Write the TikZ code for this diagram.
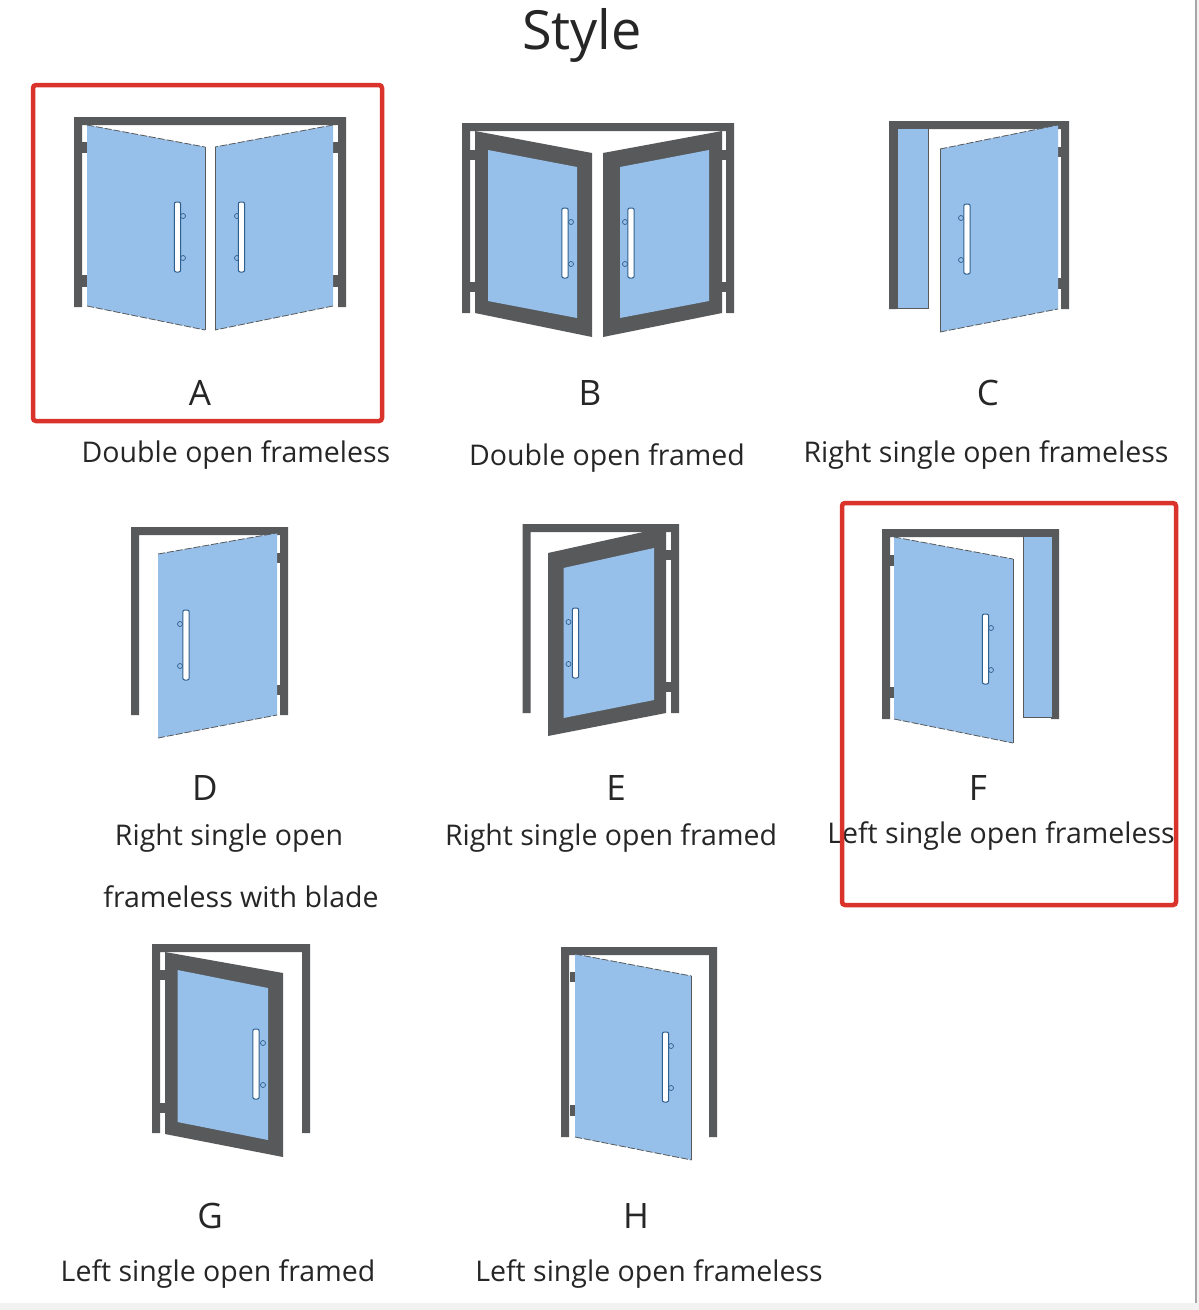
\documentclass[tikz,border=0pt]{standalone}
\usepackage{fontspec}
\setmainfont{Open Sans}
\usetikzlibrary{calc}
\definecolor{framegray}{HTML}{58595B}
\definecolor{glassblue}{HTML}{96C0E9}
\definecolor{handleblue}{HTML}{2F5F8F}
\definecolor{boxred}{HTML}{D9332B}
\definecolor{inkgray}{HTML}{262626}
\tikzset{
	framefill/.style={fill=framegray},
	glass/.style={fill=glassblue},
	edgeline/.style={draw=framegray,line width=0.8pt},
	dashline/.style={edgeline,dash pattern=on 7pt off 2pt},
	redbox/.style={draw=boxred,line width=4.5pt,rounded corners=3pt},
	letterlabel/.style={text=inkgray,font=\fontsize{35}{40}\selectfont},
	caption/.style={text=inkgray,font=\fontsize{28.5}{34}\selectfont},
}
\newcommand{\doorframe}[4]{
	\fill[framefill] (#1,#4) -- (#1,#2) -- (#3,#2) -- (#3,#4) -- ($(#3,#4)+(-8,0)$) -- ($(#3,#2)+(-8,8)$) -- ($(#1,#2)+(8,8)$) -- ($(#1,#4)+(8,0)$) -- cycle;
}
\newcommand{\doorhandle}[3]{
	\draw[fill=glassblue,draw=handleblue,line width=0.7pt] ($(#1,#2)+(#3,14)$) circle (2.5);
	\draw[fill=glassblue,draw=handleblue,line width=0.7pt] ($(#1,#2)+(#3,56)$) circle (2.5);
	\draw[fill=white,draw=handleblue,line width=1pt,rounded corners=2pt] ($(#1,#2)+(-3.2,0)$) rectangle ($(#1,#2)+(3.2,70)$);
}
\newcommand{\openleaf}[4]{
	\fill[glass] (#1) -- (#2) -- (#3) -- (#4) -- cycle;
	\draw[dashline] (#1) -- (#2);
	\draw[dashline] (#4) -- (#3);
}
\newcommand{\framedleaf}[8]{
	\fill[framefill] (#1) -- (#2) -- (#3) -- (#4) -- cycle;
	\fill[glass] (#5) -- (#6) -- (#7) -- (#8) -- cycle;
}
\newcommand{\hingeplate}[4]{
	\fill[framefill] (#1,#2) rectangle (#3,#4);
}
\begin{document}
\begin{tikzpicture}[x=1pt,y=-1pt]
	\useasboundingbox (0,0) rectangle (1199,1310);
	\fill[white] (0,0) rectangle (1199,1310);
	\fill[black!5] (0,1303) rectangle (1199,1310);
	\fill[black!35] (1194.5,0) rectangle (1197,1303);
	\fill[black!5] (1197,0) rectangle (1199,1303);

	\node[text=inkgray,font=\fontsize{54}{60}\selectfont] (title) at (582,35) {Style};

	\doorframe{74}{117}{346}{307}
	\hingeplate{82}{142}{88}{153}
	\hingeplate{82}{275}{88}{287}
	\hingeplate{333}{142}{338}{153}
	\hingeplate{333}{275}{338}{287}
	\openleaf{87,125}{205,147}{205,330}{87,306}
	\openleaf{333,125}{215,147}{215,330}{333,306}
	\draw[edgeline] (205,147) -- (205,330);
	\draw[edgeline] (215,147) -- (215,330);
	\doorhandle{177.5}{202}{5.5}
	\doorhandle{241.5}{202}{-4.5}
	\node[letterlabel] (labelA) at (200,393) {A};
	\node[caption] (captionA) at (236,455) {Double open frameless};

	\doorframe{462}{123}{734}{313}
	\hingeplate{469}{150}{476}{160}
	\hingeplate{469}{282}{476}{292}
	\hingeplate{721}{150}{727}{160}
	\hingeplate{721}{282}{727}{292}
	\framedleaf{475,131}{592,153}{592,337}{475,313}{488,150}{577,167}{577,318}{488,301}
	\framedleaf{722,131}{603,153}{603,337}{722,313}{709,150}{620,167}{620,318}{709,301}
	\doorhandle{565}{208}{6}
	\doorhandle{631}{208}{-6}
	\node[letterlabel] (labelB) at (590,393) {B};
	\node[caption] (captionB) at (607,458) {Double open framed};

	\doorframe{889}{121}{1069}{309}
	\fill[glass,draw=framegray,line width=0.5pt] (897,128) rectangle (928,308);
	\hingeplate{1057}{147}{1062}{157}
	\hingeplate{1057}{278}{1062}{289}
	\openleaf{940,149}{1058,125}{1058,309}{940,332}
	\draw[edgeline,line width=0.5pt] (940,149) -- (940,332);
	\doorhandle{967}{204}{-6}
	\node[letterlabel] (labelC) at (988,393) {C};
	\node[caption] (captionC) at (986,455) {Right single open frameless};

	\doorframe{131}{527}{288}{715}
	\hingeplate{275}{553}{280}{563}
	\hingeplate{275}{685}{280}{695}
	\openleaf{158,554}{277,533}{277,715}{158,738}
	\doorhandle{186}{610}{-6}
	\node[letterlabel] (labelD) at (205,788) {D};
	\node[caption] (captionD) at (229,838) {Right single open};
	\node[caption] (captionDb) at (241,897) {frameless with blade};

	\doorframe{522.5}{524}{679}{713}
	\hingeplate{666}{550}{671}{560}
	\hingeplate{666}{682}{671}{692}
	\framedleaf{548,553}{666,527}{666,713}{548,736}{563.5,568}{654,548}{654,700}{563.5,718}
	\doorhandle{575.5}{608}{-7}
	\node[letterlabel] (labelE) at (616,788) {E};
	\node[caption] (captionE) at (611,838) {Right single open framed};

	\doorframe{882}{529}{1059}{719}
	\fill[glass,draw=framegray,line width=0.5pt] (1023,536) rectangle (1052,717);
	\hingeplate{890}{555}{895}{566}
	\hingeplate{890}{687}{895}{698}
	\openleaf{894,537}{1013,559}{1013,743}{894,719}
	\draw[edgeline,line width=0.5pt] (1013,559) -- (1013,743);
	\doorhandle{985.5}{614}{5.5}
	\node[letterlabel] (labelF) at (978,788) {F};
	\node[caption] (captionF) at (1001,836) {Left single open frameless};

	\doorframe{152}{944}{310}{1133}
	\hingeplate{160}{970}{166}{980}
	\hingeplate{160}{1103}{166}{1113}
	\framedleaf{165,952}{283,973}{283,1157}{165,1134}{177.5,970}{268,988}{268,1140}{177.5,1122}
	\doorhandle{256}{1029}{7}
	\node[letterlabel] (labelG) at (210,1216) {G};
	\node[caption] (captionG) at (218,1274) {Left single open framed};

	\doorframe{561}{947}{717}{1137}
	\hingeplate{570}{972}{576}{982}
	\hingeplate{570}{1105}{576}{1116}
	\openleaf{575,954}{691.5,976}{691.5,1160}{575,1137}
	\draw[edgeline,line width=0.5pt] (691.5,976) -- (691.5,1160);
	\doorhandle{665.5}{1032}{5.5}
	\node[letterlabel] (labelH) at (636,1216) {H};
	\node[caption] (captionH) at (649,1274) {Left single open frameless};

	\draw[redbox] (33,85) rectangle (382,421);
	\draw[redbox] (842,503) rectangle (1176,905);
\end{tikzpicture}
\end{document}
